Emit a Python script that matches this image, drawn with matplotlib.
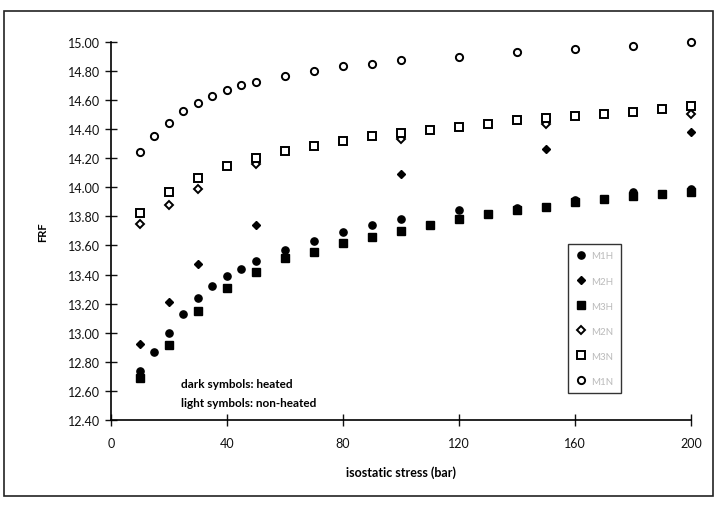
import numpy as np
import matplotlib
matplotlib.use("Agg")
import matplotlib.pyplot as plt
import matplotlib.patches as patches

plt.rcParams['font.family'] = ['Lato', 'DejaVu Sans']

# isostatic stress (bar) and FRF values per sample
x_dense = [10, 15, 20, 25, 30, 35, 40, 45, 50, 60, 70, 80, 90, 100, 120, 140, 160, 180, 200]
x_sparse = [10, 20, 30, 50, 100, 150, 200]
x_sq = [10, 20, 30, 40, 50, 60, 70, 80, 90, 100, 110, 120, 130, 140, 150, 160, 170, 180, 190, 200]

heated_circle = [12.74, 12.865, 13.00, 13.13, 13.24, 13.32, 13.39, 13.44, 13.49, 13.57,
                 13.63, 13.695, 13.74, 13.78, 13.845, 13.86, 13.91, 13.965, 13.99]
heated_diamond = [12.92, 13.21, 13.47, 13.74, 14.09, 14.26, 14.38]
heated_square = [12.69, 12.915, 13.15, 13.31, 13.415, 13.51, 13.555, 13.615, 13.655, 13.70,
                 13.74, 13.78, 13.815, 13.84, 13.865, 13.895, 13.92, 13.94, 13.955, 13.97]
light_diamond = [13.745, 13.88, 13.985, 14.16, 14.33, 14.435, 14.50]
light_square = [13.82, 13.965, 14.065, 14.145, 14.20, 14.248, 14.282, 14.32, 14.352, 14.375,
                14.395, 14.415, 14.435, 14.46, 14.477, 14.49, 14.505, 14.52, 14.539, 14.557]
light_circle = [14.245, 14.355, 14.44, 14.525, 14.58, 14.625, 14.665, 14.70, 14.72, 14.766,
                14.80, 14.832, 14.85, 14.873, 14.895, 14.927, 14.952, 14.973, 14.995]

labels = ["M1H", "M2H", "M3H", "M2N", "M3N", "M1N"]

fig = plt.figure(figsize=(7.16, 5.06), dpi=100)
fig.patches.append(patches.Rectangle((4 / 716, 1 - 497 / 506), 709 / 716, 485 / 506,
                                     transform=fig.transFigure, fill=False,
                                     edgecolor='#222222', linewidth=1.2))
ax = fig.add_axes([111 / 716, 1 - 421 / 506, 580 / 716, 378.3 / 506])

kw = dict(linestyle='none', clip_on=False, mec='black')
ax.plot(x_dense, heated_circle, 'o', ms=5.2, mfc='black', label=labels[0], **kw)
ax.plot(x_sparse, heated_diamond, 'D', ms=4.2, mfc='black', label=labels[1], **kw)
ax.plot(x_sq, heated_square, 's', ms=5.2, mfc='black', label=labels[2], **kw)
ax.plot(x_sparse, light_diamond, 'D', ms=4.2, mfc='white', mew=1.4, label=labels[3], **kw)
ax.plot(x_sq, light_square, 's', ms=5.2, mfc='white', mew=1.4, label=labels[4], **kw)
ax.plot(x_dense, light_circle, 'o', ms=5.2, mfc='white', mew=1.4, label=labels[5], **kw)

ax.set_xlim(0, 200)
ax.set_ylim(12.4, 15.0)
ax.set_xticks(np.arange(0, 201, 40))
ax.set_yticks(np.arange(12.4, 15.001, 0.2))
ax.set_yticklabels(["%.2f" % v for v in np.arange(12.4, 15.001, 0.2)])
for s in ['top', 'right']:
    ax.spines[s].set_visible(False)
ax.spines['left'].set_linewidth(1.2)
ax.spines['bottom'].set_linewidth(1.2)
ax.tick_params(axis='both', direction='inout', length=8, width=1.0, labelsize=9,
               colors='#111111')
ax.tick_params(axis='x', pad=8)
ax.tick_params(axis='y', pad=4)

ax.set_xlabel("isostatic stress (bar)", fontsize=9, fontweight='bold', labelpad=12)
ax.set_ylabel("FRF", fontsize=8, fontweight='bold', labelpad=14)

ax.text(0.12, 0.086, "dark symbols: heated", transform=ax.transAxes, fontsize=8.5,
        fontweight='bold')
ax.text(0.12, 0.036, "light symbols: non-heated", transform=ax.transAxes, fontsize=8.5,
        fontweight='bold')

leg = ax.legend(loc='upper left', bbox_to_anchor=(457 / 580, 1 - 202 / 378.3),
                frameon=True, fancybox=False, edgecolor='black', fontsize=7,
                labelspacing=1.65, handletextpad=0.6, handlelength=1.0,
                borderpad=0.8, borderaxespad=0, labelcolor='#bbbbbb')
leg.get_frame().set_linewidth(1.0)

fig.savefig("out.png", dpi=100)
